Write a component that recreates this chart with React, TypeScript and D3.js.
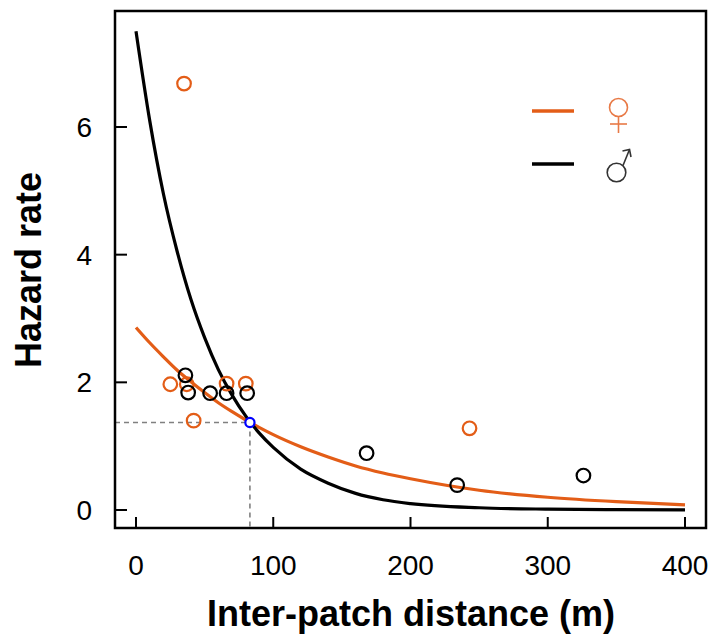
import React, { useEffect, useRef } from 'react';
import * as d3 from 'd3';

// curves
const curveDist = [0, 10, 20, 30, 40, 50, 60, 70, 80, 90, 100, 120, 140, 160, 180, 200, 250, 300, 350, 400];
const maleCurve = [7.5, 6.1, 4.95, 4.05, 3.3, 2.7, 2.2, 1.8, 1.47, 1.2, 0.98, 0.64, 0.42, 0.26, 0.16, 0.1, 0.035, 0.013, 0.005, 0.002];
const femaleCurve = [2.86, 2.62, 2.4, 2.19, 2.01, 1.84, 1.68, 1.54, 1.41, 1.29, 1.18, 0.99, 0.83, 0.69, 0.58, 0.49, 0.31, 0.2, 0.13, 0.08];

// observed hazard rates
const femaleDist = [25, 35, 37, 42, 66, 80, 243];
const femaleRate = [1.97, 6.68, 1.97, 1.4, 1.98, 1.98, 1.28];
const maleDist = [36, 38, 54, 66, 81, 168, 234, 326];
const maleRate = [2.11, 1.84, 1.83, 1.83, 1.83, 0.89, 0.39, 0.54];

// crossing of the two curves
const crossing = [83, 1.37];

const xTicks = [0, 100, 200, 300, 400];
const yTicks = [0, 2, 4, 6];

const ORANGE = '#e35d17';
const W = 713;
const H = 635;

export default function App() {
  const ref = useRef<SVGSVGElement>(null);

  useEffect(() => {
    const svg = d3.select(ref.current);
    svg.selectAll('*').remove();

    const box = { left: 115, right: 706, top: 11, bottom: 528 };
    const x = d3.scaleLinear().domain([0, 400]).range([136, 685]);
    const y = d3.scaleLinear().domain([0, 6]).range([510, 127]);

    const line = d3.line<[number, number]>()
      .x(d => x(d[0]))
      .y(d => y(d[1]))
      .curve(d3.curveMonotoneX);

    // dashed guide lines
    svg.append('line')
      .attr('x1', box.left).attr('x2', x(crossing[0]))
      .attr('y1', y(crossing[1])).attr('y2', y(crossing[1]))
      .attr('stroke', '#808080').attr('stroke-width', 1.6).attr('stroke-dasharray', '5,4');
    svg.append('line')
      .attr('x1', x(crossing[0])).attr('x2', x(crossing[0]))
      .attr('y1', y(crossing[1])).attr('y2', box.bottom)
      .attr('stroke', '#808080').attr('stroke-width', 1.6).attr('stroke-dasharray', '5,4');

    // curves
    svg.append('path')
      .datum(curveDist.map((d, i) => [d, femaleCurve[i]] as [number, number]))
      .attr('d', line)
      .attr('fill', 'none').attr('stroke', ORANGE).attr('stroke-width', 3.2);
    svg.append('path')
      .datum(curveDist.map((d, i) => [d, maleCurve[i]] as [number, number]))
      .attr('d', line)
      .attr('fill', 'none').attr('stroke', '#000').attr('stroke-width', 3.2);

    // points
    svg.append('g').selectAll('circle')
      .data(femaleDist.map((d, i) => [d, femaleRate[i]]))
      .join('circle')
      .attr('cx', d => x(d[0])).attr('cy', d => y(d[1])).attr('r', 6.8)
      .attr('fill', 'none').attr('stroke', ORANGE).attr('stroke-width', 2.2);
    svg.append('g').selectAll('circle')
      .data(maleDist.map((d, i) => [d, maleRate[i]]))
      .join('circle')
      .attr('cx', d => x(d[0])).attr('cy', d => y(d[1])).attr('r', 6.8)
      .attr('fill', 'none').attr('stroke', '#000').attr('stroke-width', 2.2);

    svg.append('circle')
      .attr('cx', x(crossing[0])).attr('cy', y(crossing[1])).attr('r', 4.6)
      .attr('fill', '#fff').attr('stroke', '#0000ff').attr('stroke-width', 2.2);

    // box
    svg.append('rect')
      .attr('x', box.left).attr('y', box.top)
      .attr('width', box.right - box.left).attr('height', box.bottom - box.top)
      .attr('fill', 'none').attr('stroke', '#000').attr('stroke-width', 2.5);

    // ticks pointing inwards
    svg.append('g').selectAll('line')
      .data(xTicks).join('line')
      .attr('x1', d => x(d)).attr('x2', d => x(d))
      .attr('y1', box.bottom).attr('y2', box.bottom - 11)
      .attr('stroke', '#000').attr('stroke-width', 2);
    svg.append('g').selectAll('line')
      .data(yTicks).join('line')
      .attr('x1', box.left).attr('x2', box.left + 12)
      .attr('y1', d => y(d)).attr('y2', d => y(d))
      .attr('stroke', '#000').attr('stroke-width', 2);

    svg.append('g').selectAll('text')
      .data(xTicks).join('text')
      .attr('x', d => x(d)).attr('y', 575)
      .attr('text-anchor', 'middle')
      .attr('font-family', 'Liberation Sans, Arial, sans-serif').attr('font-size', 28)
      .text(d => d);
    svg.append('g').selectAll('text')
      .data(yTicks).join('text')
      .attr('x', 92).attr('y', d => y(d) + 10)
      .attr('text-anchor', 'end')
      .attr('font-family', 'Liberation Sans, Arial, sans-serif').attr('font-size', 28)
      .text(d => d);

    // axis titles
    svg.append('text')
      .attr('x', 411).attr('y', 626)
      .attr('text-anchor', 'middle')
      .attr('font-family', 'Liberation Sans, Arial, sans-serif').attr('font-size', 36).attr('font-weight', 'bold')
      .text('Inter-patch distance (m)');
    svg.append('text')
      .attr('transform', 'translate(41,270) rotate(-90)')
      .attr('text-anchor', 'middle')
      .attr('font-family', 'Liberation Sans, Arial, sans-serif').attr('font-size', 36).attr('font-weight', 'bold')
      .text('Hazard rate');

    // legend: lines plus thin drawn sex symbols
    svg.append('line')
      .attr('x1', 532).attr('x2', 574).attr('y1', 111).attr('y2', 111)
      .attr('stroke', ORANGE).attr('stroke-width', 3.5);
    svg.append('line')
      .attr('x1', 532).attr('x2', 574).attr('y1', 164).attr('y2', 164)
      .attr('stroke', '#000').attr('stroke-width', 3.5);

    const fem = svg.append('g').attr('fill', 'none').attr('stroke', '#e87a47').attr('stroke-width', 1.6);
    fem.append('circle').attr('cx', 618.5).attr('cy', 107.5).attr('r', 9);
    fem.append('line').attr('x1', 618.5).attr('x2', 618.5).attr('y1', 116.5).attr('y2', 133);
    fem.append('line').attr('x1', 610).attr('x2', 627).attr('y1', 124).attr('y2', 124);

    const mal = svg.append('g').attr('fill', 'none').attr('stroke', '#333').attr('stroke-width', 1.6);
    mal.append('circle').attr('cx', 616.5).attr('cy', 172.5).attr('r', 9.3);
    mal.append('line').attr('x1', 623).attr('x2', 629.5).attr('y1', 165.5).attr('y2', 149.5);
    mal.append('path').attr('d', 'M622.5,151 L629.5,149.5 L631,157');
  }, []);

  return (
    <svg ref={ref} width={W} height={H} style={{ position: 'absolute', left: 0, top: 0, background: '#fff' }} />
  );
}
